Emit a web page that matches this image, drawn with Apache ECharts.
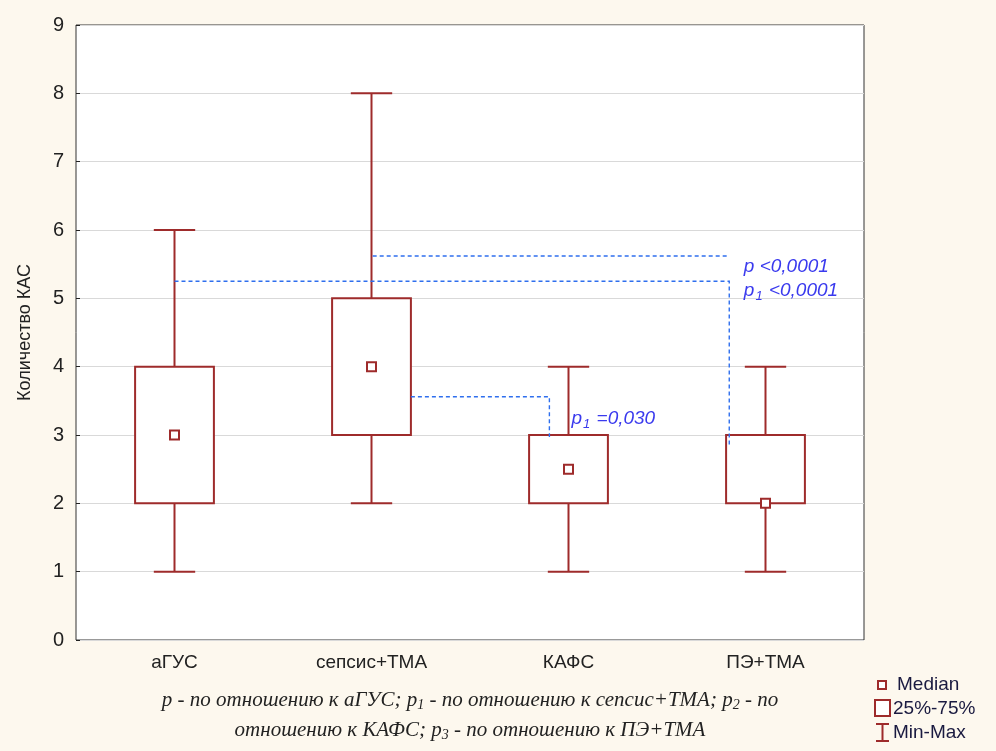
<!DOCTYPE html>
<html>
<head>
<meta charset="utf-8">
<script src="https://cdn.jsdelivr.net/npm/echarts@6/dist/echarts.min.js"></script>
<style>
  html, body { margin: 0; padding: 0; background: #fdf8ee; }
  #chart { width: 996px; height: 751px; }
</style>
</head>
<body>
<div id="chart"></div>
<script>
// Groups on the x axis
const categories = ['аГУС', 'сепсис+ТМА', 'КАФС', 'ПЭ+ТМА'];
// Per group: [min, q1, median, q3, max]
const minValues    = [1, 2, 1, 1];
const q1Values     = [2, 3, 2, 2];
const medianValues = [3, 4, 2.5, 2];
const q3Values     = [4, 5, 3, 3];
const maxValues    = [6, 8, 4, 4];
const yTicks = [0, 1, 2, 3, 4, 5, 6, 7, 8, 9];

// Comparison brackets, in (group position, value) units
const bracketPaths = [
  [[0, 5.25], [2.816, 5.25], [2.816, 2.85]],
  [[1.006, 5.62], [2.816, 5.62]],
  [[1.2, 3.56], [1.903, 3.56], [1.903, 2.97]]
];
// Significance notes: [group position, value, text]
const noteItems = [
  [2.89, 5.46, '{i|p <0,0001}'],
  [2.89, 5.11, '{i|p}{s|1}{i| <0,0001}'],
  [2.015, 3.24, '{i|p}{s|1}{i| =0,030}']
];

const boxColor = '#9e2b2b';
const noteColor = '#3a3aee';
const dashColor = '#2f6fee';
const sans = 'Arial, Liberation Sans';

const boxData = categories.map((c, i) =>
  [i, minValues[i], q1Values[i], medianValues[i], q3Values[i], maxValues[i]]);

const chart = echarts.init(document.getElementById('chart'), null, { renderer: 'canvas' });

const serifRich = {
  t: { fontSize: 21, fontStyle: 'italic', fontFamily: 'Liberation Serif, Times New Roman', fill: '#222222', color: '#222222', lineHeight: 30 },
  s: { fontSize: 14, fontStyle: 'italic', fontFamily: 'Liberation Serif, Times New Roman', fill: '#222222', color: '#222222', padding: [10, 0, 0, 0], lineHeight: 30 }
};
const noteRich = {
  i: { fontSize: 19, fontStyle: 'italic', fontFamily: sans, fill: noteColor, color: noteColor, lineHeight: 24 },
  s: { fontSize: 13, fontStyle: 'italic', fontFamily: sans, fill: noteColor, color: noteColor, padding: [11, 1, 0, 1], lineHeight: 24 }
};

chart.setOption({
  backgroundColor: '#fdf8ee',
  animation: false,
  grid: {
    left: 76, top: 25, right: 132, bottom: 111,
    show: true, backgroundColor: '#ffffff', borderColor: '#333333', borderWidth: 1
  },
  xAxis: [{
    type: 'category',
    data: categories,
    axisLine: { show: false },
    axisTick: { show: false },
    splitLine: { show: false },
    axisLabel: { color: '#222222', fontSize: 19, fontFamily: sans, margin: 13 }
  }, {
    type: 'value', min: -0.5, max: 3.5, show: false
  }],
  yAxis: {
    type: 'value',
    min: yTicks[0], max: yTicks[yTicks.length - 1], interval: 1,
    name: 'Количество КАС',
    nameLocation: 'middle',
    nameGap: 42,
    nameTextStyle: { color: '#222222', fontSize: 18, fontFamily: sans },
    axisLine: { show: false, onZero: false },
    axisTick: { show: true, inside: true, length: 4, lineStyle: { color: '#222222' } },
    splitLine: { show: true, lineStyle: { color: '#d9d9d9', width: 1 } },
    axisLabel: { color: '#222222', fontSize: 20, fontFamily: sans, margin: 12 }
  },
  series: [{
    type: 'custom',
    xAxisIndex: 0,
    data: boxData,
    encode: { x: 0, y: [1, 2, 3, 4, 5] },
    renderItem: function (params, api) {
      const x = api.value(0);
      const band = api.size([1, 0])[0];
      const half = band * 0.2;
      const cap = band * 0.105;
      const pMin = api.coord([x, api.value(1)]);
      const pQ1 = api.coord([x, api.value(2)]);
      const pMed = api.coord([x, api.value(3)]);
      const pQ3 = api.coord([x, api.value(4)]);
      const pMax = api.coord([x, api.value(5)]);
      const cx = pMin[0];
      const ls = { stroke: boxColor, lineWidth: 2, fill: null };
      const m = 4.5;
      return {
        type: 'group',
        children: [
          { type: 'line', shape: { x1: cx, y1: pMax[1], x2: cx, y2: pQ3[1] }, style: ls },
          { type: 'line', shape: { x1: cx, y1: pQ1[1], x2: cx, y2: pMin[1] }, style: ls },
          { type: 'line', shape: { x1: cx - cap, y1: pMax[1], x2: cx + cap, y2: pMax[1] }, style: ls },
          { type: 'line', shape: { x1: cx - cap, y1: pMin[1], x2: cx + cap, y2: pMin[1] }, style: ls },
          { type: 'rect', shape: { x: cx - half, y: pQ3[1], width: half * 2, height: pQ1[1] - pQ3[1] },
            style: { stroke: boxColor, lineWidth: 2, fill: '#ffffff' } },
          { type: 'rect', shape: { x: cx - m, y: pMed[1] - m, width: m * 2, height: m * 2 },
            style: { stroke: boxColor, lineWidth: 2, fill: '#ffffff' } }
        ]
      };
    }
  }, {
    type: 'custom',
    xAxisIndex: 1,
    data: bracketPaths.map((p, i) => [i]),
    renderItem: function (params, api) {
      const pts = bracketPaths[params.dataIndex].map(p => api.coord(p));
      return {
        type: 'polyline',
        shape: { points: pts },
        style: { stroke: dashColor, lineWidth: 1.4, lineDash: [4, 3], fill: null }
      };
    },
    z: 3
  }, {
    type: 'custom',
    xAxisIndex: 1,
    data: noteItems.map(n => [n[0], n[1]]),
    renderItem: function (params, api) {
      const p = api.coord([api.value(0), api.value(1)]);
      return {
        type: 'text',
        x: p[0], y: p[1],
        style: {
          text: noteItems[params.dataIndex][2],
          verticalAlign: 'middle', align: 'left',
          rich: noteRich
        }
      };
    },
    z: 4
  }],
  graphic: [
    // footnote, two centred lines
    {
      type: 'text', x: 470, y: 700,
      style: {
        text: '{t|p - по отношению к аГУС; p}{s|1}{t| - по отношению к сепсис+ТМА; p}{s|2}{t| - по}',
        align: 'center', verticalAlign: 'middle', rich: serifRich
      }
    },
    {
      type: 'text', x: 470, y: 730,
      style: {
        text: '{t|отношению к КАФС; p}{s|3}{t| - по отношению к ПЭ+ТМА}',
        align: 'center', verticalAlign: 'middle', rich: serifRich
      }
    },
    // legend
    { type: 'rect', shape: { x: 878, y: 681, width: 8, height: 8 }, style: { stroke: boxColor, lineWidth: 2, fill: '#ffffff' } },
    { type: 'rect', shape: { x: 875, y: 700, width: 15, height: 16 }, style: { stroke: boxColor, lineWidth: 2, fill: '#ffffff' } },
    { type: 'polyline', shape: { points: [[876, 724], [889, 724]] }, style: { stroke: boxColor, lineWidth: 2 } },
    { type: 'polyline', shape: { points: [[882.5, 724], [882.5, 741]] }, style: { stroke: boxColor, lineWidth: 2 } },
    { type: 'polyline', shape: { points: [[876, 741], [889, 741]] }, style: { stroke: boxColor, lineWidth: 2 } },
    { type: 'text', x: 897, y: 685, style: { text: 'Median', fontSize: 19, fontFamily: sans, fill: '#1a1a40', verticalAlign: 'middle' } },
    { type: 'text', x: 893, y: 709, style: { text: '25%-75%', fontSize: 19, fontFamily: sans, fill: '#1a1a40', verticalAlign: 'middle' } },
    { type: 'text', x: 893, y: 733, style: { text: 'Min-Max', fontSize: 19, fontFamily: sans, fill: '#1a1a40', verticalAlign: 'middle' } }
  ]
});
</script>
</body>
</html>
